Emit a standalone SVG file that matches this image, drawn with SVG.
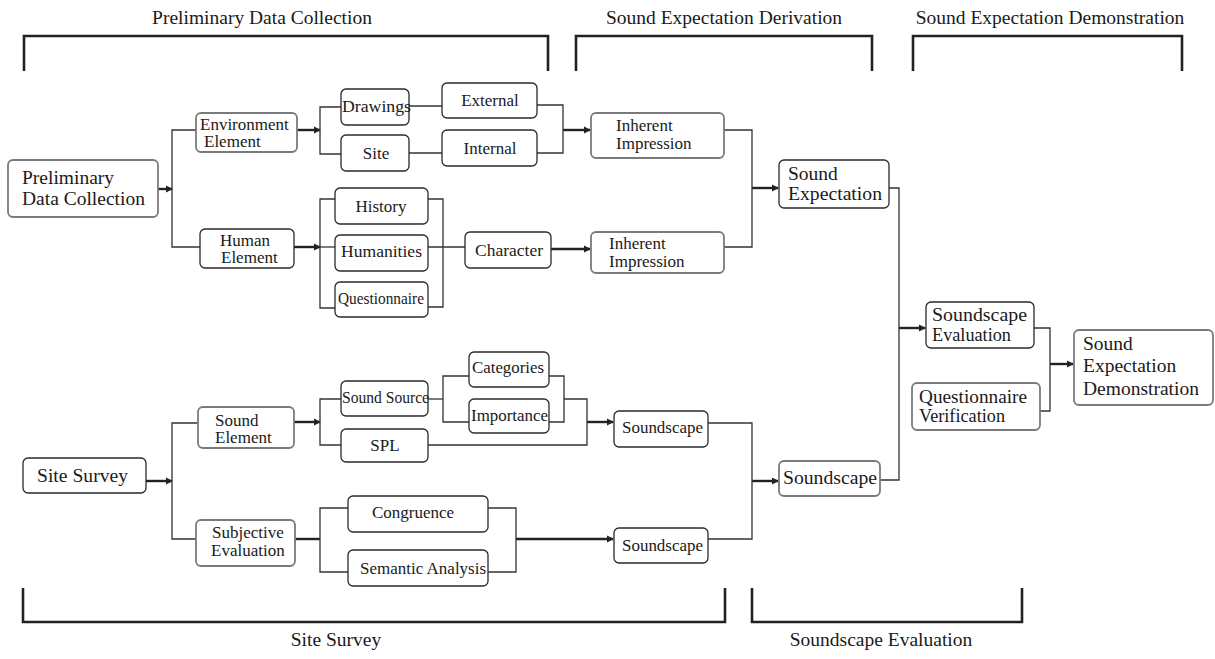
<svg xmlns="http://www.w3.org/2000/svg" width="1215" height="659" viewBox="0 0 1215 659" font-family="'Liberation Serif', 'DejaVu Serif', serif">
<style>
text{font-family:'Liberation Serif','DejaVu Serif',serif;fill:#1a1a1a}
.t{font-size:17px}
.tb{font-size:19.5px}
.lab{font-size:19.5px;text-anchor:middle}
.c{text-anchor:middle}
.box{fill:#fff;stroke:#2a2a2a;stroke-width:1.3}
.box2{fill:#fff;stroke:#7a7a7a;stroke-width:1.8}
.ln{fill:none;stroke:#333;stroke-width:1.3}
.ar{fill:none;stroke:#222;stroke-width:2.4;marker-end:url(#ah)}
.th{fill:none;stroke:#222;stroke-width:2.4}
.br{fill:none;stroke:#222;stroke-width:2.6}
</style>
<defs>
<marker id="ah" viewBox="0 0 8 8" refX="7" refY="4" markerWidth="3" markerHeight="3" orient="auto" markerUnits="strokeWidth">
<path d="M0,0 L8,4 L0,8 z" fill="#222"/>
</marker>
</defs>

<g id="brackets">
<path class="br" d="M24,71 V36 H548 V71"/>
<path class="br" d="M576,71 V36 H872 V71"/>
<path class="br" d="M913,71 V36 H1182 V71"/>
<path class="br" d="M23,588 V622 H725 V588"/>
<path class="br" d="M752,588 V622 H1022 V588"/>
<text class="lab" x="262" y="24">Preliminary Data Collection</text>
<text class="lab" x="724" y="24">Sound Expectation Derivation</text>
<text class="lab" x="1050" y="24">Sound Expectation Demonstration</text>
<text class="lab" x="336" y="646">Site Survey</text>
<text class="lab" x="881" y="646">Soundscape Evaluation</text>
</g>

<g id="connectors">
<path class="ar" d="M158,189 H172"/>
<path class="ar" d="M297,130 H320"/>
<path class="ar" d="M294,247 H320"/>
<path class="ar" d="M563,130 H590"/>
<path class="ar" d="M551,249 H590"/>
<path class="ar" d="M752,188 H778"/>
<path class="ar" d="M146,481 H172"/>
<path class="ar" d="M294,422 H320"/>
<path class="th" d="M295,539 H320"/>
<path class="ar" d="M587,422 H613"/>
<path class="ar" d="M516,539 H613"/>
<path class="ar" d="M752,481 H778"/>
<path class="ar" d="M899,328 H925"/>
<path class="ar" d="M1050,364 H1073"/>
<path class="ln" d="M196,130 H172 V247 H200"/>
<path class="ln" d="M341,107 H320 V154 H341"/>
<path class="ln" d="M409,106 H442"/>
<path class="ln" d="M409,153 H442"/>
<path class="ln" d="M537,105 H563 V153 H537"/>
<path class="ln" d="M335,199 H320 V308 H335"/>
<path class="ln" d="M320,247 H335"/>
<path class="ln" d="M428,199 H443 V307 H428"/>
<path class="ln" d="M428,247 H465"/>
<path class="ln" d="M724,130 H752 V247 H724"/>
<path class="ln" d="M889,188 H899 V480 H880"/>
<path class="ln" d="M198,423 H172 V539 H196"/>
<path class="ln" d="M341,399 H320 V445 H341"/>
<path class="ln" d="M428,399 H443"/>
<path class="ln" d="M469,376 H443 V422 H469"/>
<path class="ln" d="M549,376 H564 V422 H549"/>
<path class="ln" d="M564,399 H587 V445 H428"/>
<path class="ln" d="M348,508 H320 V572 H348"/>
<path class="ln" d="M488,508 H516 V572 H488"/>
<path class="ln" d="M708,423 H752 V539 H708"/>
<path class="ln" d="M1034,328 H1050 V411 H1040"/>
</g>

<g id="n-pdc"><rect class="box2" x="8" y="160" width="150" height="57" rx="5"/>
<text class="tb" x="22" y="184">Preliminary</text><text class="tb" x="22" y="205">Data Collection</text></g>
<g id="n-env"><rect class="box2" x="196" y="113" width="101" height="39" rx="5"/>
<text class="t" x="200" y="130" font-size="16.5">Environment</text><text class="t" x="204" y="147" font-size="16.5">Element</text></g>
<g id="n-human"><rect class="box" x="200" y="229" width="94" height="39" rx="5"/>
<text class="t" x="220" y="246" font-size="16">Human</text><text class="t" x="221" y="263" font-size="16">Element</text></g>
<g id="n-drawings"><rect class="box" x="341" y="89" width="68" height="36" rx="5"/>
<text class="t" x="342" y="112" textLength="69" lengthAdjust="spacingAndGlyphs">Drawings</text></g>
<g id="n-site"><rect class="box" x="341" y="135" width="68" height="36" rx="5"/>
<text class="t c" x="376" y="159">Site</text></g>
<g id="n-external"><rect class="box" x="442" y="83" width="95" height="35" rx="5"/>
<text class="t c" x="490" y="106">External</text></g>
<g id="n-internal"><rect class="box" x="442" y="130" width="95" height="36" rx="5"/>
<text class="t c" x="490" y="154">Internal</text></g>
<g id="n-history"><rect class="box" x="335" y="188" width="93" height="36" rx="5"/>
<text class="t c" x="381" y="212">History</text></g>
<g id="n-humanities"><rect class="box" x="335" y="235" width="93" height="36" rx="5"/>
<text class="t" x="341" y="257" textLength="81" lengthAdjust="spacingAndGlyphs">Humanities</text></g>
<g id="n-questionnaire"><rect class="box" x="335" y="282" width="93" height="35" rx="5"/>
<text class="t" x="338" y="304" textLength="86" lengthAdjust="spacingAndGlyphs">Questionnaire</text></g>
<g id="n-character"><rect class="box" x="465" y="232" width="86" height="36" rx="5"/>
<text class="t" x="475" y="256" textLength="68" lengthAdjust="spacingAndGlyphs">Character</text></g>
<g id="n-inherent1"><rect class="box2" x="591" y="113" width="133" height="45" rx="5"/>
<text class="t" x="616" y="131" font-size="18.5" fill="#333">Inherent</text><text class="t" x="616" y="149" font-size="18.5" fill="#333">Impression</text></g>
<g id="n-inherent2"><rect class="box2" x="591" y="232" width="133" height="41" rx="5"/>
<text class="t" x="609" y="249" font-size="18.5" fill="#333">Inherent</text><text class="t" x="609" y="267" font-size="18.5" fill="#333">Impression</text></g>
<g id="n-soundexp"><rect class="box" x="779" y="160" width="110" height="48" rx="5"/>
<text class="tb" x="788" y="180">Sound</text><text class="tb" x="788" y="200" textLength="94" lengthAdjust="spacingAndGlyphs">Expectation</text></g>

<g id="n-sitesurvey"><rect class="box" x="23" y="458" width="123" height="35" rx="5"/>
<text class="tb" x="37" y="482" textLength="91" lengthAdjust="spacingAndGlyphs">Site Survey</text></g>
<g id="n-soundel"><rect class="box2" x="198" y="407" width="96" height="41" rx="5"/>
<text class="t" x="215" y="426" font-size="18.5" fill="#333">Sound</text><text class="t" x="215" y="443" font-size="18.5" fill="#333">Element</text></g>
<g id="n-subj"><rect class="box2" x="196" y="520" width="99" height="46" rx="5"/>
<text class="t" x="212" y="538" font-size="16.8">Subjective</text><text class="t" x="211" y="556" font-size="16.8">Evaluation</text></g>
<g id="n-soundsource"><rect class="box" x="341" y="381" width="87" height="35" rx="5"/>
<text class="t" x="342" y="403" textLength="87" lengthAdjust="spacingAndGlyphs">Sound Source</text></g>
<g id="n-spl"><rect class="box" x="341" y="429" width="87" height="33" rx="5"/>
<text class="t c" x="385" y="451" font-size="18">SPL</text></g>
<g id="n-categories"><rect class="box" x="469" y="352" width="80" height="35" rx="5"/>
<text class="t" x="472" y="373" textLength="72" lengthAdjust="spacingAndGlyphs">Categories</text></g>
<g id="n-importance"><rect class="box" x="469" y="399" width="80" height="34" rx="5"/>
<text class="t" x="471" y="421" textLength="77" lengthAdjust="spacingAndGlyphs">Importance</text></g>
<g id="n-congruence"><rect class="box" x="348" y="496" width="140" height="36" rx="5"/>
<text class="t" x="372" y="518" font-size="18.4" fill="#333">Congruence</text></g>
<g id="n-semantic"><rect class="box" x="348" y="550" width="140" height="36" rx="5"/>
<text class="t" x="360" y="574" font-size="15.4" fill="#333">Semantic Analysis</text></g>
<g id="n-soundscape1"><rect class="box" x="614" y="411" width="94" height="36" rx="5"/>
<text class="t" x="622" y="433" textLength="81" lengthAdjust="spacingAndGlyphs">Soundscape</text></g>
<g id="n-soundscape2"><rect class="box" x="614" y="528" width="94" height="35" rx="5"/>
<text class="t" x="622" y="551" textLength="81" lengthAdjust="spacingAndGlyphs">Soundscape</text></g>
<g id="n-soundscape"><rect class="box2" x="779" y="461" width="101" height="35" rx="5"/>
<text class="tb" x="783" y="484" textLength="94" lengthAdjust="spacingAndGlyphs">Soundscape</text></g>

<g id="n-se"><rect class="box" x="926" y="302" width="108" height="46" rx="5"/>
<text class="tb" x="932" y="321" textLength="95" lengthAdjust="spacingAndGlyphs">Soundscape</text><text class="tb" x="932" y="341" textLength="79" lengthAdjust="spacingAndGlyphs">Evaluation</text></g>
<g id="n-qv"><rect class="box2" x="912" y="383" width="128" height="47" rx="5"/>
<text class="tb" x="919" y="403" textLength="108" lengthAdjust="spacingAndGlyphs">Questionnaire</text><text class="tb" x="919" y="422" textLength="86" lengthAdjust="spacingAndGlyphs">Verification</text></g>
<g id="n-sed"><rect class="box2" x="1074" y="330" width="139" height="75" rx="5"/>
<text class="tb" x="1083" y="350" font-size="20">Sound</text><text class="tb" x="1083" y="372" font-size="20">Expectation</text><text class="tb" x="1083" y="395" font-size="20">Demonstration</text></g>
</svg>
